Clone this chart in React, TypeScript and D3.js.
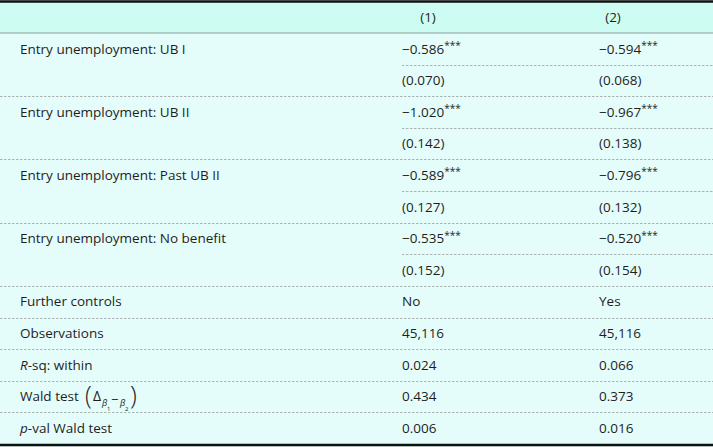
import React from 'react';
import * as d3 from 'd3';

const W = 713;
const H = 447;

// column headers
const colHeads = ['(1)', '(2)'];

// coefficient block
const coefLabels = [
  'Entry unemployment: UB I',
  'Entry unemployment: UB II',
  'Entry unemployment: Past UB II',
  'Entry unemployment: No benefit',
];
const coef1 = [-0.586, -1.02, -0.589, -0.535];
const coef2 = [-0.594, -0.967, -0.796, -0.52];
const stars1 = ['***', '***', '***', '***'];
const stars2 = ['***', '***', '***', '***'];
const se1 = [0.07, 0.142, 0.127, 0.152];
const se2 = [0.068, 0.138, 0.132, 0.154];

// statistics block
const statLabels = ['Further controls', 'Observations', 'R-sq: within', 'Wald test', 'p-val Wald test'];
const stat1 = ['No', '45116', '0.024', '0.434', '0.006'];
const stat2 = ['Yes', '45116', '0.066', '0.373', '0.016'];

const FONT = "'Open Sans', 'Noto Sans', sans-serif";
const INK = '#1e1e1e';
const fmt3 = d3.format('.3f');
const fmtObs = d3.format(',');

export default function App() {
  const rowIds = d3.range(coefLabels.length * 2 + statLabels.length);
  const y = d3.scaleBand<number>().domain(rowIds).range([33, 444]);
  const bw = y.bandwidth();
  const x = d3.scaleOrdinal<string, number>().domain(['label', ...colHeads]).range([20, 402, 599]);
  const headCenter = d3.scaleOrdinal<string, number>().domain(colHeads).range([428, 613]);

  const mid = (i: number) => (y(i) ?? 0) + bw / 2;
  const fs = 13.5;

  const statCell = (v: string, i: number) => (i === 1 ? fmtObs(+v) : v);

  const renderStatLabel = (lab: string, i: number) => {
    const cy = mid(coefLabels.length * 2 + i);
    const x0 = x('label');
    if (lab.startsWith('R-sq')) {
      return (
        <text key={lab} x={x0} y={cy} dy="0.35em" fontSize={fs} fill={INK}>
          <tspan fontStyle="italic">R</tspan>-sq: within
        </text>
      );
    }
    if (lab.startsWith('p-val')) {
      return (
        <text key={lab} x={x0} y={cy} dy="0.35em" fontSize={fs} fill={INK}>
          <tspan fontStyle="italic">p</tspan>-val Wald test
        </text>
      );
    }
    if (lab === 'Wald test') {
      return (
        <g key={lab} fill={INK}>
          <text x={x0} y={cy} dy="0.35em" fontSize={fs}>Wald test</text>
          <text x={x0 + 65} y={cy + 7} fontSize={25} fontWeight={300}>(</text>
          <text x={x0 + 73} y={cy + 4} fontSize={14}>Δ</text>
          <text x={x0 + 82} y={cy + 9} fontSize={9} fontStyle="italic">β</text>
          <text x={x0 + 87} y={cy + 14} fontSize={6}>1</text>
          <text x={x0 + 91} y={cy + 7} fontSize={13}>−</text>
          <text x={x0 + 100} y={cy + 9} fontSize={9} fontStyle="italic">β</text>
          <text x={x0 + 105} y={cy + 14} fontSize={6}>2</text>
          <text x={x0 + 110} y={cy + 7} fontSize={25} fontWeight={300}>)</text>
        </g>
      );
    }
    return (
      <text key={lab} x={x0} y={cy} dy="0.35em" fontSize={fs} fill={INK}>
        {lab}
      </text>
    );
  };

  return (
    <svg width={W} height={H} style={{ position: 'absolute', left: 0, top: 0 }} fontFamily={FONT}>
      <rect x={0} y={0} width={W} height={H} fill="#e5fdfa" />
      <rect x={0} y={2} width={W} height={31} fill="#cdfcf2" />
      <line x1={0} x2={W} y1={1.5} y2={1.5} stroke="#111" strokeWidth={2.5} />
      <line x1={0} x2={W} y1={33} y2={33} stroke="#8a9a98" strokeWidth={1} />

      {colHeads.map((h) => (
        <text key={h} x={headCenter(h)} y={17} dy="0.35em" textAnchor="middle" fontSize={fs} fill={INK}>
          {h}
        </text>
      ))}

      {/* row separators */}
      {rowIds.slice(0, -1).map((i) => {
        const yy = Math.round((y(i) ?? 0) + bw) + 0.5;
        const partial = i < coefLabels.length * 2 && i % 2 === 0;
        return (
          <line
            key={`sep${i}`}
            x1={partial ? x('(1)') : 0}
            x2={W}
            y1={yy}
            y2={yy}
            stroke="#9aa5a3"
            strokeWidth={0.8}
            strokeDasharray="2.5,1.5"
          />
        );
      })}
      <line x1={0} x2={W} y1={445} y2={445} stroke="#111" strokeWidth={2.5} />

      {coefLabels.map((lab, k) => {
        const cy = mid(k * 2);
        const sy = mid(k * 2 + 1);
        return (
          <g key={lab} fontSize={fs} fill={INK}>
            <text x={x('label')} y={cy} dy="0.35em">{lab}</text>
            <text x={x('(1)')} y={cy} dy="0.35em">
              {fmt3(coef1[k])}
              <tspan fontSize={10} dy="-0.45em">{stars1[k]}</tspan>
            </text>
            <text x={x('(2)')} y={cy} dy="0.35em">
              {fmt3(coef2[k])}
              <tspan fontSize={10} dy="-0.45em">{stars2[k]}</tspan>
            </text>
            <text x={x('(1)')} y={sy} dy="0.35em">({fmt3(se1[k])})</text>
            <text x={x('(2)')} y={sy} dy="0.35em">({fmt3(se2[k])})</text>
          </g>
        );
      })}

      {statLabels.map((lab, i) => renderStatLabel(lab, i))}
      {statLabels.map((lab, i) => {
        const cy = mid(coefLabels.length * 2 + i);
        return (
          <g key={`v${lab}`} fontSize={fs} fill={INK}>
            <text x={x('(1)')} y={cy} dy="0.35em">{statCell(stat1[i], i)}</text>
            <text x={x('(2)')} y={cy} dy="0.35em">{statCell(stat2[i], i)}</text>
          </g>
        );
      })}
    </svg>
  );
}
